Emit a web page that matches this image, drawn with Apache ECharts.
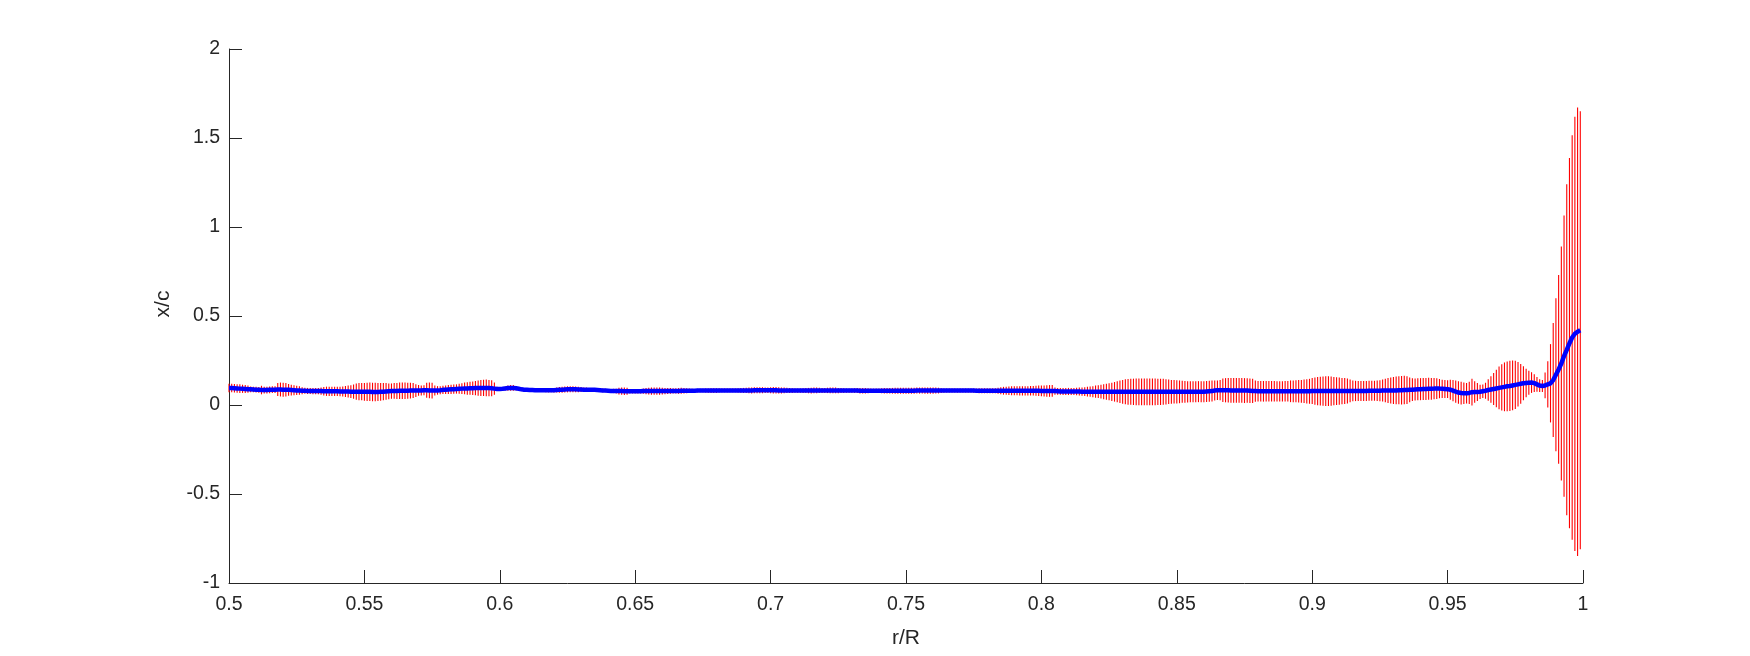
<!DOCTYPE html>
<html>
<head>
<meta charset="utf-8">
<script src="https://cdn.jsdelivr.net/npm/echarts@6/dist/echarts.min.js"></script>
<style>
html,body{margin:0;padding:0;background:#fff;}
#chart{width:1750px;height:656px;}
</style>
</head>
<body>
<div id="chart"></div>
<script>
// r/R positions
const rValues = [
0.500,0.501,0.502,0.503,0.504,0.505,0.506,0.507,0.508,0.509,
0.510,0.511,0.512,0.513,0.514,0.515,0.516,0.517,0.518,0.519,
0.520,0.521,0.522,0.523,0.524,0.525,0.526,0.527,0.528,0.529,
0.530,0.531,0.532,0.533,0.534,0.535,0.536,0.537,0.538,0.539,
0.540,0.541,0.542,0.543,0.544,0.545,0.546,0.547,0.548,0.549,
0.550,0.551,0.552,0.553,0.554,0.555,0.556,0.557,0.558,0.559,
0.560,0.561,0.562,0.563,0.564,0.565,0.566,0.567,0.568,0.569,
0.570,0.571,0.572,0.573,0.574,0.575,0.576,0.577,0.578,0.579,
0.580,0.581,0.582,0.583,0.584,0.585,0.586,0.587,0.588,0.589,
0.590,0.591,0.592,0.593,0.594,0.595,0.596,0.597,0.598,0.599,
0.600,0.601,0.602,0.603,0.604,0.605,0.606,0.607,0.608,0.609,
0.610,0.611,0.612,0.613,0.614,0.615,0.616,0.617,0.618,0.619,
0.620,0.621,0.622,0.623,0.624,0.625,0.626,0.627,0.628,0.629,
0.630,0.631,0.632,0.633,0.634,0.635,0.636,0.637,0.638,0.639,
0.640,0.641,0.642,0.643,0.644,0.645,0.646,0.647,0.648,0.649,
0.650,0.651,0.652,0.653,0.654,0.655,0.656,0.657,0.658,0.659,
0.660,0.661,0.662,0.663,0.664,0.665,0.666,0.667,0.668,0.669,
0.670,0.671,0.672,0.673,0.674,0.675,0.676,0.677,0.678,0.679,
0.680,0.681,0.682,0.683,0.684,0.685,0.686,0.687,0.688,0.689,
0.690,0.691,0.692,0.693,0.694,0.695,0.696,0.697,0.698,0.699,
0.700,0.701,0.702,0.703,0.704,0.705,0.706,0.707,0.708,0.709,
0.710,0.711,0.712,0.713,0.714,0.715,0.716,0.717,0.718,0.719,
0.720,0.721,0.722,0.723,0.724,0.725,0.726,0.727,0.728,0.729,
0.730,0.731,0.732,0.733,0.734,0.735,0.736,0.737,0.738,0.739,
0.740,0.741,0.742,0.743,0.744,0.745,0.746,0.747,0.748,0.749,
0.750,0.751,0.752,0.753,0.754,0.755,0.756,0.757,0.758,0.759,
0.760,0.761,0.762,0.763,0.764,0.765,0.766,0.767,0.768,0.769,
0.770,0.771,0.772,0.773,0.774,0.775,0.776,0.777,0.778,0.779,
0.780,0.781,0.782,0.783,0.784,0.785,0.786,0.787,0.788,0.789,
0.790,0.791,0.792,0.793,0.794,0.795,0.796,0.797,0.798,0.799,
0.800,0.801,0.802,0.803,0.804,0.805,0.806,0.807,0.808,0.809,
0.810,0.811,0.812,0.813,0.814,0.815,0.816,0.817,0.818,0.819,
0.820,0.821,0.822,0.823,0.824,0.825,0.826,0.827,0.828,0.829,
0.830,0.831,0.832,0.833,0.834,0.835,0.836,0.837,0.838,0.839,
0.840,0.841,0.842,0.843,0.844,0.845,0.846,0.847,0.848,0.849,
0.850,0.851,0.852,0.853,0.854,0.855,0.856,0.857,0.858,0.859,
0.860,0.861,0.862,0.863,0.864,0.865,0.866,0.867,0.868,0.869,
0.870,0.871,0.872,0.873,0.874,0.875,0.876,0.877,0.878,0.879,
0.880,0.881,0.882,0.883,0.884,0.885,0.886,0.887,0.888,0.889,
0.890,0.891,0.892,0.893,0.894,0.895,0.896,0.897,0.898,0.899,
0.900,0.901,0.902,0.903,0.904,0.905,0.906,0.907,0.908,0.909,
0.910,0.911,0.912,0.913,0.914,0.915,0.916,0.917,0.918,0.919,
0.920,0.921,0.922,0.923,0.924,0.925,0.926,0.927,0.928,0.929,
0.930,0.931,0.932,0.933,0.934,0.935,0.936,0.937,0.938,0.939,
0.940,0.941,0.942,0.943,0.944,0.945,0.946,0.947,0.948,0.949,
0.950,0.951,0.952,0.953,0.954,0.955,0.956,0.957,0.958,0.959,
0.960,0.961,0.962,0.963,0.964,0.965,0.966,0.967,0.968,0.969,
0.970,0.971,0.972,0.973,0.974,0.975,0.976,0.977,0.978,0.979,
0.980,0.981,0.982,0.983,0.984,0.985,0.986,0.987,0.988,0.989,
0.990,0.991,0.992,0.993,0.994,0.995,0.996,0.997,0.998,0.999
];

// mean x/c (blue line)
const meanValues = [
0.095,0.095,0.094,0.093,0.092,0.091,0.090,0.089,0.088,0.087,
0.086,0.085,0.084,0.084,0.084,0.085,0.086,0.086,0.087,0.087,
0.086,0.086,0.085,0.084,0.083,0.082,0.081,0.080,0.080,0.079,
0.079,0.078,0.078,0.078,0.078,0.077,0.077,0.077,0.077,0.077,
0.077,0.076,0.076,0.076,0.076,0.075,0.075,0.075,0.075,0.075,
0.074,0.074,0.074,0.073,0.073,0.073,0.074,0.075,0.076,0.077,
0.078,0.079,0.079,0.080,0.080,0.080,0.080,0.081,0.081,0.081,
0.082,0.082,0.083,0.083,0.082,0.081,0.081,0.082,0.083,0.085,
0.086,0.087,0.088,0.089,0.090,0.091,0.092,0.093,0.093,0.094,
0.094,0.095,0.095,0.096,0.096,0.096,0.095,0.094,0.092,0.090,
0.090,0.091,0.093,0.095,0.096,0.096,0.094,0.091,0.088,0.086,
0.085,0.084,0.084,0.083,0.083,0.083,0.083,0.083,0.083,0.083,
0.083,0.084,0.085,0.086,0.087,0.088,0.088,0.088,0.088,0.087,
0.087,0.086,0.086,0.085,0.085,0.085,0.084,0.083,0.082,0.081,
0.080,0.079,0.079,0.078,0.078,0.078,0.077,0.077,0.077,0.077,
0.077,0.077,0.077,0.078,0.078,0.078,0.078,0.078,0.078,0.078,
0.078,0.078,0.079,0.079,0.079,0.079,0.079,0.080,0.080,0.080,
0.080,0.080,0.080,0.081,0.081,0.081,0.081,0.081,0.081,0.081,
0.081,0.082,0.082,0.082,0.082,0.082,0.082,0.082,0.082,0.082,
0.082,0.082,0.082,0.082,0.083,0.083,0.083,0.083,0.083,0.083,
0.083,0.083,0.083,0.082,0.082,0.082,0.082,0.082,0.081,0.081,
0.081,0.081,0.081,0.081,0.081,0.081,0.082,0.082,0.082,0.082,
0.082,0.082,0.082,0.082,0.082,0.081,0.081,0.081,0.081,0.081,
0.081,0.081,0.081,0.080,0.080,0.080,0.080,0.080,0.080,0.080,
0.080,0.080,0.080,0.080,0.080,0.080,0.080,0.080,0.080,0.080,
0.080,0.080,0.080,0.080,0.081,0.081,0.081,0.081,0.081,0.081,
0.081,0.081,0.081,0.081,0.081,0.081,0.081,0.081,0.081,0.081,
0.081,0.081,0.081,0.081,0.081,0.081,0.080,0.080,0.080,0.080,
0.080,0.080,0.080,0.080,0.080,0.080,0.080,0.080,0.080,0.080,
0.080,0.080,0.080,0.080,0.080,0.080,0.080,0.080,0.080,0.080,
0.079,0.079,0.079,0.079,0.079,0.078,0.077,0.076,0.076,0.076,
0.076,0.076,0.076,0.076,0.076,0.075,0.075,0.075,0.075,0.075,
0.075,0.075,0.075,0.075,0.074,0.074,0.074,0.074,0.074,0.074,
0.074,0.074,0.074,0.074,0.074,0.074,0.074,0.074,0.074,0.074,
0.074,0.074,0.074,0.074,0.074,0.074,0.074,0.074,0.074,0.074,
0.074,0.074,0.074,0.074,0.074,0.074,0.074,0.075,0.075,0.075,
0.075,0.076,0.077,0.078,0.081,0.083,0.083,0.083,0.083,0.083,
0.082,0.082,0.082,0.082,0.082,0.081,0.081,0.080,0.079,0.078,
0.077,0.077,0.077,0.077,0.077,0.077,0.077,0.077,0.077,0.077,
0.077,0.077,0.077,0.077,0.077,0.077,0.077,0.077,0.077,0.077,
0.078,0.078,0.078,0.078,0.078,0.078,0.078,0.078,0.078,0.078,
0.078,0.078,0.079,0.079,0.079,0.079,0.079,0.079,0.079,0.079,
0.079,0.080,0.080,0.080,0.080,0.080,0.081,0.081,0.081,0.082,
0.082,0.082,0.083,0.083,0.084,0.084,0.085,0.086,0.087,0.088,
0.089,0.090,0.090,0.091,0.091,0.092,0.092,0.092,0.091,0.090,
0.089,0.086,0.081,0.075,0.070,0.067,0.066,0.066,0.068,0.072,
0.073,0.073,0.074,0.077,0.080,0.084,0.087,0.090,0.093,0.096,
0.099,0.102,0.105,0.107,0.110,0.113,0.116,0.119,0.122,0.124,
0.125,0.126,0.123,0.116,0.109,0.107,0.110,0.116,0.122,0.140,
0.170,0.200,0.233,0.275,0.310,0.347,0.379,0.400,0.412,0.420
];

// half-height of the red error bars
const errValues = [
0.024,0.024,0.024,0.024,0.024,0.023,0.023,0.020,0.016,0.016,
0.016,0.016,0.024,0.019,0.019,0.019,0.019,0.019,0.036,0.039,
0.039,0.038,0.033,0.030,0.028,0.026,0.024,0.020,0.017,0.017,
0.017,0.017,0.017,0.017,0.020,0.024,0.026,0.026,0.026,0.026,
0.026,0.027,0.028,0.031,0.034,0.036,0.040,0.046,0.048,0.049,
0.050,0.051,0.052,0.052,0.052,0.051,0.050,0.049,0.047,0.044,
0.043,0.044,0.045,0.046,0.046,0.046,0.045,0.044,0.042,0.036,
0.030,0.028,0.028,0.042,0.044,0.044,0.028,0.024,0.023,0.023,
0.024,0.025,0.026,0.026,0.026,0.028,0.030,0.033,0.035,0.036,
0.038,0.040,0.043,0.045,0.046,0.047,0.046,0.045,0.035,0.012,
0.010,0.010,0.011,0.015,0.016,0.016,0.013,0.010,0.010,0.010,
0.010,0.010,0.010,0.010,0.010,0.010,0.010,0.011,0.012,0.012,
0.013,0.014,0.016,0.017,0.017,0.017,0.017,0.017,0.016,0.015,
0.014,0.013,0.012,0.011,0.010,0.010,0.010,0.010,0.010,0.010,
0.010,0.011,0.012,0.013,0.019,0.021,0.021,0.020,0.013,0.012,
0.012,0.012,0.013,0.015,0.017,0.019,0.020,0.021,0.021,0.020,
0.019,0.018,0.017,0.016,0.015,0.015,0.016,0.017,0.016,0.014,
0.012,0.011,0.010,0.010,0.010,0.010,0.011,0.012,0.013,0.013,
0.013,0.012,0.011,0.010,0.010,0.010,0.010,0.011,0.012,0.013,
0.014,0.015,0.016,0.017,0.017,0.017,0.017,0.017,0.016,0.016,
0.017,0.018,0.018,0.018,0.017,0.016,0.015,0.014,0.013,0.012,
0.012,0.012,0.013,0.014,0.015,0.016,0.016,0.016,0.015,0.014,
0.014,0.015,0.016,0.016,0.016,0.015,0.014,0.013,0.012,0.012,
0.012,0.013,0.014,0.015,0.015,0.015,0.014,0.013,0.012,0.012,
0.013,0.014,0.015,0.015,0.015,0.016,0.017,0.017,0.017,0.017,
0.017,0.017,0.017,0.017,0.017,0.017,0.017,0.018,0.018,0.018,
0.018,0.017,0.016,0.013,0.012,0.011,0.011,0.011,0.011,0.011,
0.011,0.011,0.011,0.011,0.011,0.012,0.013,0.014,0.014,0.014,
0.014,0.014,0.014,0.014,0.017,0.020,0.022,0.023,0.024,0.025,
0.025,0.025,0.026,0.026,0.026,0.026,0.027,0.027,0.028,0.029,
0.030,0.031,0.032,0.033,0.033,0.020,0.019,0.019,0.020,0.020,
0.020,0.020,0.020,0.021,0.022,0.023,0.025,0.027,0.029,0.031,
0.034,0.036,0.039,0.042,0.045,0.048,0.051,0.055,0.059,0.063,
0.067,0.070,0.072,0.073,0.074,0.075,0.075,0.075,0.075,0.075,
0.075,0.075,0.075,0.074,0.074,0.073,0.071,0.069,0.067,0.066,
0.065,0.064,0.062,0.061,0.060,0.059,0.059,0.059,0.059,0.059,
0.059,0.059,0.059,0.059,0.056,0.055,0.057,0.066,0.068,0.069,
0.069,0.070,0.070,0.070,0.070,0.070,0.069,0.069,0.068,0.060,
0.058,0.058,0.058,0.058,0.058,0.058,0.058,0.057,0.057,0.057,
0.058,0.058,0.061,0.061,0.062,0.063,0.064,0.066,0.068,0.070,
0.073,0.076,0.079,0.081,0.082,0.083,0.083,0.082,0.080,0.078,
0.076,0.074,0.073,0.070,0.064,0.058,0.057,0.056,0.056,0.056,
0.056,0.056,0.056,0.056,0.057,0.059,0.062,0.066,0.070,0.073,
0.076,0.078,0.079,0.080,0.080,0.078,0.070,0.064,0.062,0.062,
0.062,0.062,0.062,0.062,0.061,0.060,0.058,0.054,0.051,0.050,
0.050,0.056,0.060,0.062,0.063,0.064,0.060,0.058,0.062,0.075,
0.060,0.050,0.040,0.038,0.045,0.060,0.075,0.090,0.105,0.120,
0.130,0.137,0.140,0.141,0.140,0.135,0.125,0.112,0.095,0.080,
0.068,0.058,0.050,0.042,0.036,0.034,0.072,0.130,0.220,0.320,
0.430,0.530,0.657,0.790,0.930,1.040,1.136,1.220,1.260,1.230
];

const xTicks = {min: 0.5, max: 1, interval: 0.05};
const yTicks = {min: -1, max: 2, interval: 0.5};

const errData = rValues.map((r, i) => [r, meanValues[i] - errValues[i], meanValues[i] + errValues[i]]);
const lineData = rValues.map((r, i) => [r, meanValues[i]]);

const FONT = 'Liberation Sans, Arial, Helvetica, sans-serif';
const AX = '#262626';

const chart = echarts.init(document.getElementById('chart'), null, {renderer: 'canvas'});
chart.setOption({
  backgroundColor: '#ffffff',
  animation: false,
  grid: {left: 229, right: 167, top: 49, bottom: 73, containLabel: false},
  xAxis: {
    type: 'value', min: xTicks.min, max: xTicks.max, interval: xTicks.interval,
    name: 'r/R', nameLocation: 'middle', nameGap: 45,
    nameTextStyle: {color: AX, fontSize: 21, fontFamily: FONT},
    axisLine: {show: true, onZero: false, lineStyle: {color: AX, width: 1}},
    axisTick: {show: true, inside: true, length: 13, lineStyle: {color: AX}},
    axisLabel: {color: AX, fontSize: 19.5, fontFamily: FONT, margin: 12},
    splitLine: {show: false}
  },
  yAxis: {
    type: 'value', min: yTicks.min, max: yTicks.max, interval: yTicks.interval,
    name: 'x/c', nameLocation: 'middle', nameGap: 55, nameRotate: 90,
    nameTextStyle: {color: AX, fontSize: 21, fontFamily: FONT, padding: [0, 0, 0, 24]},
    axisLine: {show: true, onZero: false, lineStyle: {color: AX, width: 1}},
    axisTick: {show: true, inside: true, length: 13, lineStyle: {color: AX}},
    axisLabel: {color: AX, fontSize: 19.5, fontFamily: FONT, margin: 9},
    splitLine: {show: false}
  },
  series: [
    {
      type: 'custom',
      data: errData,
      encode: {x: 0, y: [1, 2]},
      z: 2,
      renderItem: function (params, api) {
        const x = api.value(0);
        const p1 = api.coord([x, api.value(1)]);
        const p2 = api.coord([x, api.value(2)]);
        return {
          type: 'line',
          shape: {x1: p1[0], y1: p1[1], x2: p2[0], y2: p2[1]},
          style: {stroke: '#ff0000', lineWidth: 1.1}
        };
      }
    },
    {
      type: 'line',
      data: lineData,
      z: 3,
      symbol: 'none',
      lineStyle: {color: '#0000ff', width: 4.5},
      silent: true
    }
  ]
});
</script>
</body>
</html>
